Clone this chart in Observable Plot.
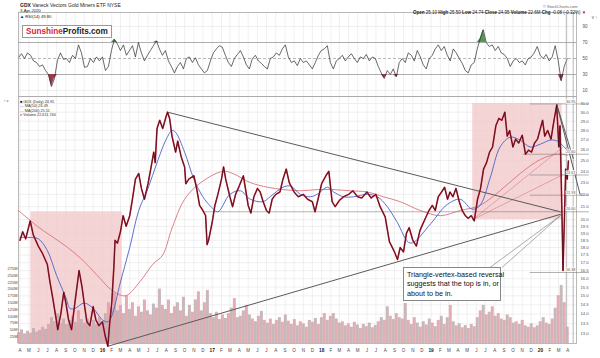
<!DOCTYPE html>
<html><head><meta charset="utf-8">
<script src="https://cdn.jsdelivr.net/npm/d3@7"></script>
<script src="https://cdn.jsdelivr.net/npm/@observablehq/plot@0.6"></script>
<style>
body{margin:0;background:#fff;}
#wrap{position:relative;width:600px;height:358px;overflow:hidden;font-family:"Liberation Sans",Arial,sans-serif;background:#fff;}
#wrap svg{position:absolute;left:0;}
.t{position:absolute;white-space:nowrap;color:#222;line-height:1;}
</style></head><body><div id="wrap"></div>
<script>
// ---------- DATA ----------
const priceDates = ["2015-04-01","2015-04-10","2015-04-20","2015-05-05","2015-05-15","2015-06-01","2015-06-15","2015-07-01","2015-07-10","2015-07-20","2015-08-01","2015-08-05","2015-08-15","2015-08-25","2015-09-01","2015-09-10","2015-09-20","2015-10-01","2015-10-10","2015-10-15","2015-10-25","2015-11-01","2015-11-10","2015-11-20","2015-12-01","2015-12-10","2015-12-20","2016-01-01","2016-01-10","2016-01-19","2016-01-25","2016-02-01","2016-02-08","2016-02-12","2016-02-20","2016-03-01","2016-03-10","2016-03-20","2016-04-01","2016-04-10","2016-04-20","2016-05-01","2016-05-10","2016-05-20","2016-06-01","2016-06-10","2016-06-20","2016-06-25","2016-07-01","2016-07-10","2016-07-20","2016-08-01","2016-08-05","2016-08-12","2016-08-20","2016-09-01","2016-09-08","2016-09-20","2016-10-01","2016-10-05","2016-10-15","2016-11-01","2016-11-10","2016-11-20","2016-12-01","2016-12-10","2016-12-15","2016-12-20","2017-01-01","2017-01-10","2017-01-20","2017-02-01","2017-02-08","2017-02-15","2017-03-01","2017-03-10","2017-03-20","2017-04-01","2017-04-15","2017-05-01","2017-05-10","2017-05-20","2017-06-01","2017-06-10","2017-06-20","2017-07-01","2017-07-10","2017-07-20","2017-08-01","2017-08-15","2017-08-25","2017-09-05","2017-09-15","2017-10-01","2017-10-15","2017-11-01","2017-11-15","2017-12-01","2017-12-10","2017-12-20","2018-01-01","2018-01-15","2018-01-25","2018-02-05","2018-02-15","2018-03-01","2018-03-15","2018-04-01","2018-04-15","2018-05-01","2018-05-15","2018-06-01","2018-06-15","2018-07-01","2018-07-15","2018-08-01","2018-08-15","2018-09-01","2018-09-11","2018-09-20","2018-10-01","2018-10-11","2018-10-20","2018-11-01","2018-11-13","2018-11-25","2018-12-05","2018-12-15","2018-12-25","2019-01-05","2019-01-15","2019-01-25","2019-02-05","2019-02-15","2019-02-25","2019-03-05","2019-03-15","2019-03-25","2019-04-05","2019-04-15","2019-04-25","2019-05-05","2019-05-15","2019-05-25","2019-06-05","2019-06-15","2019-06-25","2019-07-05","2019-07-15","2019-07-25","2019-08-05","2019-08-15","2019-08-25","2019-09-04","2019-09-12","2019-09-20","2019-10-01","2019-10-10","2019-10-20","2019-11-01","2019-11-12","2019-11-22","2019-12-02","2019-12-12","2019-12-22","2020-01-03","2020-01-08","2020-01-15","2020-01-25","2020-02-05","2020-02-15","2020-02-24","2020-03-02","2020-03-06","2020-03-12","2020-03-16","2020-03-20","2020-03-25","2020-03-30","2020-04-03"];
const priceValues = [18.5,19.1,18.6,19.9,18.9,18.1,17.6,16.9,15.8,14.8,13.6,13.2,14.0,15.2,14.6,13.7,13.2,14.6,15.8,16.5,15.5,14.6,13.6,13.4,14.4,13.7,13.4,13.6,12.9,12.4,13.5,14.6,16.7,18.5,18.3,19.1,20.3,19.5,20.3,21.6,23.3,23.8,22.5,21.6,22.9,24.2,25.8,24.8,28.2,29.1,28.2,29.6,30.0,29.3,27.4,25.8,26.9,25.3,24.4,22.9,23.3,23.6,22.5,21.1,20.7,20.3,18.2,18.5,19.8,21.1,22.0,23.3,24.4,23.3,21.8,21.0,22.0,22.7,23.6,21.1,20.5,21.8,22.5,22.2,21.4,20.7,20.5,21.6,22.0,22.2,23.3,24.2,23.0,22.2,21.8,22.0,21.6,21.4,20.6,21.6,22.9,23.6,24.0,21.4,21.0,21.5,21.8,22.0,22.3,21.8,21.7,22.2,21.7,22.0,21.0,20.2,18.4,17.7,17.2,18.0,17.7,19.0,19.4,18.5,18.1,19.2,19.7,20.2,20.7,21.1,20.7,21.8,22.2,22.6,21.6,22.2,21.8,22.5,21.4,20.7,20.3,20.1,20.3,19.9,21.6,22.5,24.2,24.8,25.8,26.3,28.5,29.3,29.1,30.0,27.4,28.0,26.3,27.1,26.7,27.5,25.6,26.0,25.8,26.7,27.1,28.5,29.1,27.4,28.0,27.1,29.1,30.8,26.3,28.5,21.1,16.5,19.5,24.2,23.3,24.95];

const ma50Dates = ["2015-04-01","2015-05-01","2015-06-01","2015-07-01","2015-08-01","2015-09-01","2015-09-15","2015-10-01","2015-11-01","2015-12-01","2016-01-01","2016-01-20","2016-02-01","2016-03-01","2016-04-01","2016-05-01","2016-06-01","2016-07-01","2016-08-01","2016-08-20","2016-09-01","2016-10-01","2016-11-01","2016-12-01","2016-12-28","2017-01-20","2017-03-01","2017-04-05","2017-05-08","2017-06-20","2017-07-13","2017-08-25","2017-09-20","2017-10-22","2017-11-24","2017-12-17","2018-01-20","2018-02-10","2018-03-15","2018-04-17","2018-06-03","2018-07-06","2018-08-08","2018-09-10","2018-10-24","2018-12-31","2019-02-20","2019-04-08","2019-05-18","2019-06-13","2019-07-17","2019-08-19","2019-09-22","2019-10-25","2019-11-28","2020-01-01","2020-02-03","2020-02-26","2020-03-30"];
const ma50Values = [18.7,18.7,18.6,17.8,16.2,14.9,14.3,14.3,14.6,14.3,13.7,13.6,13.9,15.8,18.0,20.7,22.5,24.8,27.1,28.0,27.8,25.8,23.3,21.8,21.0,20.6,22.0,22.3,21.6,21.4,21.8,22.6,22.7,22.0,21.8,22.0,22.6,22.2,21.8,21.8,22.0,21.8,21.0,19.8,18.3,19.7,21.1,21.6,20.8,21.1,23.4,26.3,27.3,27.0,26.3,26.6,27.0,26.9,26.0];

const ma200Dates = ["2015-03-27","2015-05-29","2015-09-07","2015-10-30","2015-12-25","2016-01-27","2016-03-17","2016-05-04","2016-06-17","2016-07-20","2016-08-19","2016-10-01","2016-11-24","2017-02-06","2017-03-11","2017-05-08","2017-07-05","2017-08-27","2017-10-22","2017-12-17","2018-02-08","2018-04-05","2018-06-01","2018-07-26","2018-09-20","2018-11-26","2019-02-01","2019-04-08","2019-06-13","2019-08-19","2019-10-25","2020-01-01","2020-02-26","2020-03-30"];
const ma200Values = [20.7,19.5,18.0,17.1,16.0,15.4,15.0,15.8,16.9,17.5,19.3,21.6,23.0,24.0,23.8,23.0,22.6,22.4,22.3,22.4,22.4,22.3,22.2,21.8,21.4,20.7,20.3,20.7,21.1,22.3,23.8,25.1,25.6,25.5];

// RSI(14) and volume, sampled every 10 days from the start date
const rsiStart = "2015-03-27";
const rsiValues = [51,56,50,57,54,47,45,40,42,35,30,15,25,48,57,49,50,45,54,50,67,57,39,40,50,45,52,47,52,35,40,60,74,68,60,67,54,60,66,52,70,57,47,54,60,66,72,62,54,60,47,40,32,40,45,37,50,52,45,51,42,37,32,35,47,57,62,66,64,54,45,40,50,55,60,52,42,37,50,54,47,44,40,37,50,52,57,54,62,67,52,45,47,41,50,45,47,42,37,45,54,60,62,66,45,37,47,50,54,47,52,56,50,45,52,50,55,47,52,50,40,32,25,35,30,37,27,45,50,45,57,54,47,60,52,42,37,50,54,62,67,60,65,54,47,62,57,50,44,35,32,42,45,62,75,86,70,65,67,60,65,57,55,50,40,47,50,45,47,42,50,52,57,65,54,50,55,47,52,66,47,22,40,49.8];
const volStart = "2015-03-27";
const volValues = [40,50,35,45,38,55,42,48,60,52,70,95,80,110,75,90,70,85,100,78,120,88,75,90,65,85,70,95,80,110,150,130,185,120,140,110,175,125,150,100,135,115,160,120,105,145,130,200,140,125,160,110,135,150,120,170,100,140,115,160,190,120,150,195,110,95,115,88,105,92,110,130,165,95,100,120,140,105,90,80,100,118,85,75,90,70,85,95,78,105,82,70,88,65,80,72,60,85,78,92,70,95,110,85,100,110,90,75,80,65,72,60,78,68,55,70,62,75,58,66,80,95,85,135,100,88,110,95,90,147,85,70,95,75,60,80,68,90,75,62,85,100,70,95,140,80,65,72,58,66,55,70,62,95,120,140,105,115,135,100,110,90,85,105,95,75,80,70,85,65,60,72,58,65,80,95,75,70,90,130,176,213,150,60];

const zones = [
  {x1:"2015-05-07", x2:"2016-03-07", lo:12.53, hi:20.6},
  {x1:"2019-05-20", x2:"2020-03-13", lo:20.0, hi:31.0}
];
const triangleLines = [
  [{d:"2016-08-05", v:30.0},{d:"2020-03-07", v:20.6}],
  [{d:"2016-01-19", v:12.4},{d:"2020-03-07", v:20.4}],
  [{d:"2020-02-24", v:30.9},{d:"2020-04-19", v:25.2}],
  [{d:"2020-02-24", v:30.9},{d:"2020-05-12", v:22.0}]
];
const fanLines = [
  [{d:"2019-05-20", v:20.0},{d:"2020-03-16", v:26.3}],
  [{d:"2019-05-20", v:20.0},{d:"2020-03-16", v:23.7}]
];
const levelStarts = ["2019-11-28","2019-11-05","2019-11-28","2019-11-28","2016-12-01","2019-11-28"];
const levelValues = [30.95,25.60,23.67,21.93,20.60,16.38];
const calloutTail = [
  [{d:"2019-07-17", v:16.7},{d:"2020-03-07", v:20.3}],
  [{d:"2019-08-26", v:16.7},{d:"2020-03-07", v:20.3}]
];
const priceTicks = [13,13.5,14,14.5,15,15.5,16,16.5,17,17.5,18,18.5,19,19.5,20,21,22,23,24,25,26,27,28,29,30,31];
const volTicks = [25,50,75,100,125,150,175,200,225,250,275];
const rsiTicks = [10,30,50,70,90];
const markerDates = ["2020-03-27","2020-04-19"];

// ---------- BUILD ----------
const X0 = new Date("2015-03-27"), X1 = new Date("2020-04-30");
const FONT = "Liberation Sans, Arial, sans-serif";
const P = (d) => new Date(d);
const price = priceDates.map((d,i)=>({date:P(d), v:priceValues[i]}));
const ma50 = ma50Dates.map((d,i)=>({date:P(d), v:ma50Values[i]}));
const ma200 = ma200Dates.map((d,i)=>({date:P(d), v:ma200Values[i]}));
const rsi = rsiValues.map((v,i)=>({date:d3.utcDay.offset(P(rsiStart), i*10), v}));
const vol = volValues.map((v,i)=>({date:d3.utcDay.offset(P(volStart), i*10), v, k:i%2}));
const months = d3.utcMonth.range(P("2015-04-01"), P("2020-05-01"));
const MN = "JFMAMJJASOND";
const levels = levelValues.map((v,i)=>({d1:P(levelStarts[i]), v, label:v.toFixed(2)}));
const wrap = document.getElementById("wrap");
const common = {width:600, marginLeft:18, marginRight:24, style:{background:"transparent", fontFamily:FONT, overflow:"visible"}};
const YD = [12.53, 31.83];

// RSI panel
const rsiPlot = Plot.plot({
  ...common, height:84, marginTop:0, marginBottom:0,
  x:{type:"utc", domain:[X0,X1], axis:null},
  y:{domain:[2.5,107.5], axis:null},
  marks:[
    Plot.ruleX(months, {stroke:"#e6e6e6", strokeWidth:0.6}),
    Plot.ruleY([10,90], {stroke:"#e6e6e6", strokeWidth:0.6}),
    Plot.ruleY([30,70], {stroke:"#9a9a9a", strokeWidth:0.8}),
    Plot.ruleY([50], {stroke:"#9a9a9a", strokeWidth:0.7, strokeDasharray:"3,2"}),
    Plot.areaY(rsi, {x:"date", y1:70, y2:d=>Math.max(d.v,70), fill:"#4f9a4f", curve:"linear"}),
    Plot.areaY(rsi, {x:"date", y1:30, y2:d=>Math.min(d.v,30), fill:"#9e3a4c", curve:"linear"}),
    Plot.line(rsi, {x:"date", y:"v", stroke:"#2a2a2a", strokeWidth:0.7}),
    Plot.ruleX(markerDates.map(P), {stroke:"#9a9a9a", strokeWidth:0.7}),
    Plot.axisY({anchor:"right", ticks:rsiTicks, tickSize:0, tickPadding:6, fontSize:4.5, fill:"#555"}),
    Plot.frame({stroke:"#a8a8a8", strokeWidth:0.8})
  ]
});
rsiPlot.style.top = "12px";
wrap.appendChild(rsiPlot);

// Main panel base (grid, zones, axes)
const base = Plot.plot({
  ...common, height:262, marginTop:0, marginBottom:15,
  x:{type:"utc", domain:[X0,X1], axis:null},
  y:{type:"log", domain:YD, axis:null},
  marks:[
    Plot.ruleX(months, {stroke:"#e6e6e6", strokeWidth:0.6}),
    Plot.ruleY(priceTicks, {stroke:"#e6e6e6", strokeWidth:0.6}),
    Plot.rect(zones, {x1:d=>P(d.x1), x2:d=>P(d.x2), y1:"lo", y2:"hi", fill:"#f2c9cc", fillOpacity:0.8}),
    Plot.text(months.filter(d=>d.getUTCMonth()!==0), {x:d=>d, y:YD[0], dy:7, text:d=>MN[d.getUTCMonth()], fontSize:4.5, fill:"#444"}),
    Plot.text(months.filter(d=>d.getUTCMonth()===0), {x:d=>d, y:YD[0], dy:7, text:d=>String(d.getUTCFullYear()).slice(2), fontSize:4.8, fontWeight:"bold", fill:"#222"}),
    Plot.axisY({anchor:"right", ticks:priceTicks, tickFormat:d=>d.toFixed(1), tickSize:0, tickPadding:4, fontSize:4.2, fill:"#555"}),
    Plot.ruleX(markerDates.map(P), {stroke:"#9a9a9a", strokeWidth:0.7}),
    Plot.frame({stroke:"#a8a8a8", strokeWidth:0.8})
  ]
});
base.style.top = "96px";
wrap.appendChild(base);

// Volume layer
const volPlot = Plot.plot({
  ...common, height:262, marginTop:0, marginBottom:15,
  x:{type:"utc", domain:[X0,X1], axis:null},
  y:{domain:[0,908], axis:null},
  marks:[
    Plot.ruleX(vol.filter(d=>d.k===0), {x:"date", y1:0, y2:"v", stroke:"#e29ea7", strokeWidth:3, strokeOpacity:0.85}),
    Plot.ruleX(vol.filter(d=>d.k===1), {x:"date", y1:0, y2:"v", stroke:"#c0aaae", strokeWidth:3, strokeOpacity:0.85}),
    Plot.axisY({anchor:"left", ticks:volTicks, tickFormat:d=>d+"M", tickSize:0, tickPadding:1, fontSize:4, fill:"#444"})
  ]
});
volPlot.style.top = "96px";
wrap.appendChild(volPlot);

// Overlay: price, MAs, trend lines, levels
const over = Plot.plot({
  ...common, height:262, marginTop:0, marginBottom:15,
  x:{type:"utc", domain:[X0,X1], axis:null},
  y:{type:"log", domain:YD, axis:null},
  marks:[
    ...fanLines.map(l=>Plot.line(l, {x:d=>P(d.d), y:"v", stroke:"#d98a8f", strokeWidth:0.7})),
    Plot.line(ma200, {x:"date", y:"v", stroke:"#d9737b", strokeWidth:0.9, curve:"catmull-rom"}),
    Plot.line(ma50, {x:"date", y:"v", stroke:"#4a62c8", strokeWidth:0.9, curve:"catmull-rom"}),
    Plot.ruleY(levels, {y:"v", x1:"d1", x2:P("2020-06-12"), stroke:"#808080", strokeWidth:0.6}),
    ...triangleLines.map(l=>Plot.line(l, {x:d=>P(d.d), y:"v", stroke:"#5a5a5a", strokeWidth:1})),
    Plot.line(price, {x:"date", y:"v", stroke:"#c8243d", strokeWidth:1.6}),
    Plot.line(price, {x:"date", y:"v", stroke:"#1a0a0c", strokeWidth:0.6}),
    ...calloutTail.map(l=>Plot.line(l, {x:d=>P(d.d), y:"v", stroke:"#8a8a8a", strokeWidth:0.7})),
    Plot.text(levels, {x:X1, y:"v", dx:-1, dy:-2.5, text:"label", textAnchor:"end", fontSize:3.8, fill:"#555", stroke:"#fff", strokeWidth:1.5, paintOrder:"stroke"})
  ]
});
over.style.top = "96px";
wrap.appendChild(over);

// Text / HTML annotations
function addText(html, x, y, size, extra) {
  const el = document.createElement("div");
  el.className = "t";
  el.style.left = x + "px"; el.style.top = y + "px"; el.style.fontSize = size + "px";
  if (extra) Object.assign(el.style, extra);
  el.innerHTML = html;
  wrap.appendChild(el);
  return el;
}
addText("<b>GDX</b> Vaneck Vectors Gold Miners ETF NYSE", 20, 3, 5);
addText("3-Apr-2020", 20, 9, 4.2);
addText("▲ RSI(14) 49.80", 20, 15, 4.2);
addText("© StockCharts.com", 543, 5, 4, {color:"#666"});
addText("<b>Open</b> 25.10 <b>High</b> 25.50 <b>Low</b> 24.74 <b>Close</b> 24.95 <b>Volume</b> 22.6M <b>Chg</b> -0.08 (-0.32%) <span style='color:#c00'>▼</span>", 413, 11, 4.5);
addText("<span style='color:#d7263d'>Sunshine</span><span style='color:#222'>Profits.com</span>", 22, 25, 8.2,
  {fontWeight:"bold", background:"#fff", border:"0.8px solid #999", padding:"1.5px 3px", lineHeight:"8px"});
addText("<span style='color:#111'>■</span> GDX (Daily) 24.95<br><span style='color:#4a62c8'>—</span> MA(50) 26.49<br><span style='color:#d9737b'>—</span> MA(200) 25.51<br><span style='color:#c9a0a6'>■</span> Volume 22,611,740", 20, 100, 3.8, {lineHeight:"4.4px", color:"#333"});
addText("Triangle-vertex-based reversal<br>suggests that the top is in, or<br>about to be in.", 403, 267, 7.2,
  {background:"#fff", border:"0.8px solid #888", padding:"2px 3px", lineHeight:"9.3px", width:"90px", color:"#111"});
</script></body></html>
